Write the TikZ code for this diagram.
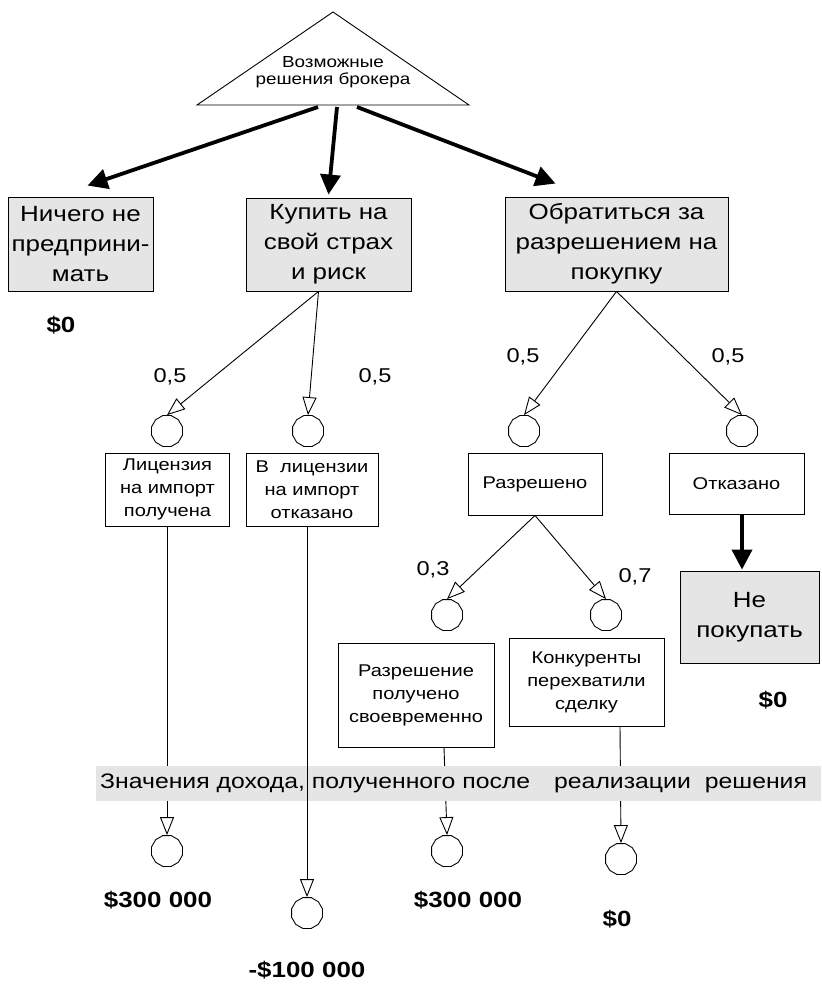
\documentclass[tikz,border=0pt]{standalone}
\usepackage{fontspec}
\setmainfont{Liberation Sans}[FakeStretch=1.18]
\usetikzlibrary{arrows.meta,shapes.geometric}
\definecolor{boxgray}{gray}{0.9}

\begin{document}
\begin{tikzpicture}[x=1pt,y=-1pt,
  decision/.style={draw,fill=boxgray,align=center,inner sep=0pt,line width=0.9pt,
    font=\fontsize{22}{30}\selectfont},
  event/.style={draw,fill=white,align=center,inner sep=0pt,line width=0.9pt,
    font=\fontsize{17}{23}\selectfont},
  chance/.style={draw,regular polygon,regular polygon sides=12,minimum size=32pt,
    inner sep=0pt,line width=0.9pt},
  prob/.style={-{Triangle[open,length=18pt,width=14pt]},line width=0.9pt},
  choice/.style={-{Triangle[length=20pt,width=20pt]},line width=3.8pt},
  plabel/.style={font=\fontsize{20}{24}\selectfont},
  payoff/.style={font=\bfseries\fontsize{22}{26}\selectfont}]
  \useasboundingbox (0,0) rectangle (821,984);

  % root decision
  \draw[line width=0.9pt] (333,12) -- (469,105) -- (197,105) -- cycle;
  \node[align=center,font=\fontsize{16}{17}\selectfont] (root) at (333,72) {Возможные\\решения брокера};
  \coordinate (s1) at (318,107);
  \coordinate (s2) at (337,107);
  \coordinate (s3) at (357,107);

  % the three choices
  \node[decision,minimum width=145pt,minimum height=94pt] (idle) at (80.5,244) {Ничего не\\предприни-\\мать};
  \node[decision,minimum width=165pt,minimum height=93pt] (risk) at (328.5,244.5) {Купить на\\свой страх\\и риск};
  \node[decision,minimum width=223pt,minimum height=94pt] (ask) at (616.5,244) {Обратиться за\\разрешением на\\покупку};
  \draw[choice] (s1) -- ([xshift=7pt,yshift=11pt]idle.north);
  \draw[choice] (s2) -- ([yshift=3pt]risk.north);
  \draw[choice] (s3) -- ([xshift=-61pt,yshift=13pt]ask.north);
  \node[payoff] (v0) at (61,325) {\$0};

  % chance nodes, first level
  \node[chance] (c1) at (167,431) {};
  \node[chance] (c2) at (308,431) {};
  \node[chance] (c3) at (524,431) {};
  \node[chance] (c4) at (742,431) {};
  \draw[prob] ([xshift=-10pt]risk.south) -- (c1.north);
  \draw[prob] ([xshift=-10pt]risk.south) -- (c2.north);
  \draw[prob] (ask.south) -- (c3.north);
  \draw[prob] (ask.south) -- (c4.north);
  \node[plabel] at (170,377) {0,5};
  \node[plabel] at (375,377) {0,5};
  \node[plabel] at (523,357) {0,5};
  \node[plabel] at (728,357) {0,5};

  % outcomes
  \node[event,minimum width=124pt,minimum height=73pt] (lic) at (167.5,489.5) {Лицензия\\на импорт\\получена};
  \node[event,minimum width=132pt,minimum height=73pt] (nolic) at (312,489.5) {В~~лицензии\\на импорт\\отказано};
  \node[event,minimum width=134pt,minimum height=62pt] (ok) at (535,484) {Разрешено};
  \node[event,minimum width=135pt,minimum height=61pt] (deny) at (736.5,483.5) {Отказано};
  \node[decision,minimum width=139pt,minimum height=92pt] (nobuy) at (749.5,617) {Не\\покупать};
  \draw[choice] ([xshift=5.5pt]deny.south) -- ([xshift=-7.5pt,yshift=1pt]nobuy.north);
  \node[payoff] (v5) at (773,700) {\$0};

  % second level after permission
  \node[chance] (c5) at (447,615) {};
  \node[chance] (c6) at (606,615) {};
  \draw[prob] (ok.south) -- (c5.north);
  \draw[prob] (ok.south) -- (c6.north);
  \node[plabel] at (433,570) {0,3};
  \node[plabel] at (635,577) {0,7};
  \node[event,minimum width=156pt,minimum height=104pt] (ontime) at (416,695) {Разрешение\\получено\\своевременно};
  \node[event,minimum width=155pt,minimum height=88pt] (lost) at (586.5,682) {Конкуренты\\перехватили\\сделку};

  % end points
  \node[chance] (e1) at (167,851) {};
  \node[chance] (e2) at (307,913) {};
  \node[chance] (e3) at (447,851) {};
  \node[chance] (e4) at (621,859) {};
  \draw[prob] (lic.south -| e1.north) -- (e1.north);
  \draw[prob] ([xshift=28pt]ontime.south) -- (e3.north);
  \draw[prob] ([xshift=33.5pt]lost.south) -- (e4.north);
  \node[fill=boxgray,minimum width=725pt,minimum height=35pt,inner sep=0pt,anchor=west] (band) at (96,783.5) {};
  \node[anchor=base west,inner sep=0pt,font=\fontsize{21}{25}\selectfont] (bandtext) at (100,788)
    {Значения дохода, полученного после\hspace{24pt}реализации\hspace{14pt}решения};
  \draw[prob] (nolic.south -| e2.north) -- (e2.north);

  \node[payoff] (v1) at (158,900) {\$300 000};
  \node[payoff] (v2) at (307,970) {-\$100 000};
  \node[payoff] (v3) at (468,900) {\$300 000};
  \node[payoff] (v4) at (617,919) {\$0};
\end{tikzpicture}
\end{document}
